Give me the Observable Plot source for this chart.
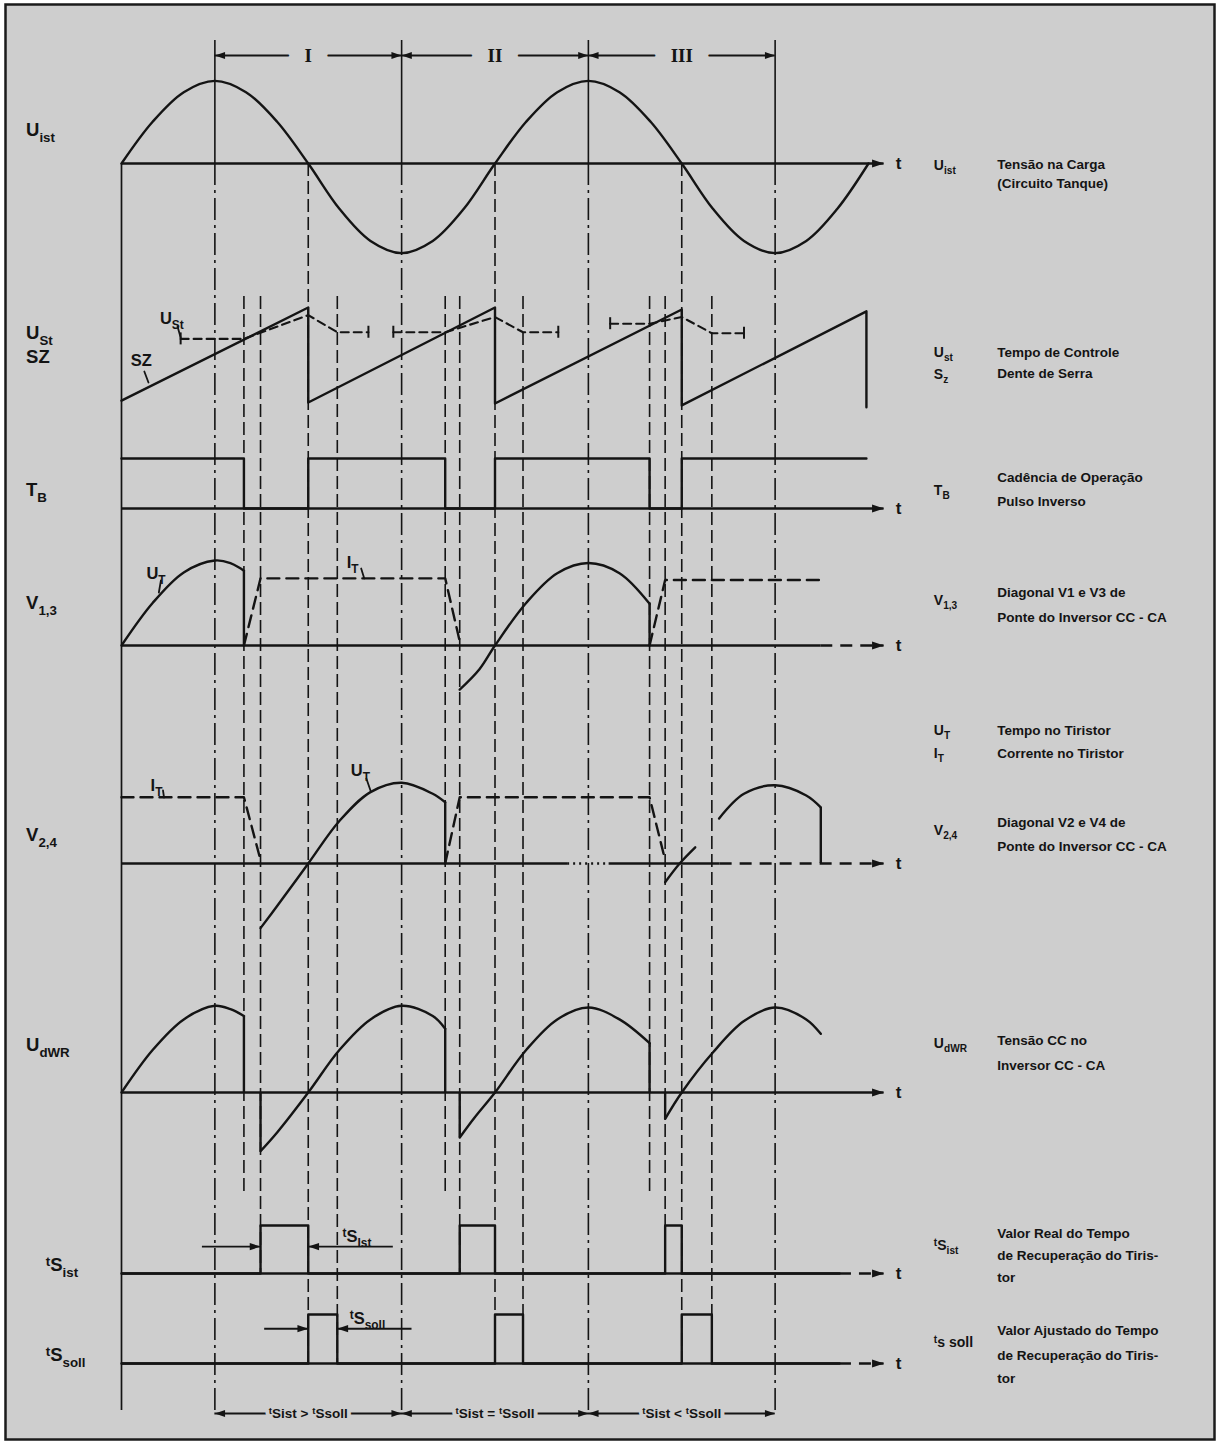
<!DOCTYPE html>
<html>
<head>
<meta charset="utf-8">
<script src="https://cdn.jsdelivr.net/npm/d3@7"></script>
<script src="https://cdn.jsdelivr.net/npm/@observablehq/plot@0.6"></script>
<style>
html,body{margin:0;padding:0;background:#ffffff;}
#chart svg{display:block;}
</style>
</head>
<body>
<div id="chart"></div>
<script>
// ---------------- DATA (x = electrical angle of U_ist, degrees) ----------------
const periodNames = ["I", "II", "III"];
const periodBounds = [90, 270, 450, 630];
const bottomCompare = ["{^t}Sist > {^t}Ssoll", "{^t}Sist = {^t}Ssoll", "{^t}Sist < {^t}Ssoll"];

// U_ist : tank-circuit voltage
const uistAngle = [0,30,60,90,120,150,180,210,240,270,300,330,360,390,420,450,480,510,540,570,600,630,660,690,720];
const uistValue = [0,0.48,0.82,0.95,0.82,0.48,0,-0.52,-0.89,-1.03,-0.89,-0.52,0,0.48,0.82,0.95,0.82,0.48,0,-0.52,-0.89,-1.03,-0.89,-0.52,0];

// SZ : saw-tooth
const szAngle = [0,180,180,360,360,540,540,718,718];
const szValue = [0.03,1.01,0.01,1.01,0.0,0.99,-0.02,0.97,-0.04];

// U_St : control level (dashed), one group per period
const ustPeriod = [1,1,1,1,1, 2,2,2,2,2, 3,3,3,3,3];
const ustAngle  = [57,118,180,208,238, 262,312,360,387,421, 471,509,540,569,600];
const ustValue  = [0.68,0.68,0.93,0.75,0.75, 0.75,0.75,0.91,0.75,0.75, 0.84,0.84,0.91,0.74,0.74];

// T_B : operating cadence (inverse pulse)
const tbAngle = [0,118,180,312,360,509,540,718];
const tbState = [1,0,1,0,1,0,1,1];

// V1,3 : thyristor voltage U_T (solid) and current I_T (dashed)
const v13UtSeg   = [1,1,1,1,1,1, 2,2,2,2,2,2,2,2];
const v13UtAngle = [0,30,60,90,105,118, 326,345,360,390,420,450,480,509];
const v13UtValue = [0,0.5,0.86,1.0,0.97,0.88, -0.52,-0.28,0,0.5,0.85,0.97,0.85,0.49];
const v13DropAngle = [118,509];
const v13DropFrom  = [0.88,0.49];
const v13ItSeg   = [1,1,1,1, 2,2,2];
const v13ItAngle = [118,134,312,326, 509,524,674];
const v13ItValue = [0,0.79,0.79,0.05, 0,0.77,0.77];

// V2,4
const v24UtSeg   = [1,1,1,1,1,1,1,1, 2,2,2, 3,3,3,3,3];
const v24UtAngle = [134,150,180,210,240,270,300,312, 524,538,553, 576,600,630,660,674];
const v24UtValue = [-0.76,-0.5,0,0.5,0.84,0.95,0.82,0.72, -0.22,0,0.19, 0.53,0.82,0.92,0.8,0.66];
const v24DropAngle = [312,674];
const v24DropFrom  = [0.72,0.66];
const v24ItSeg   = [1,1,1, 2,2,2,2];
const v24ItAngle = [0,118,134, 312,326,509,524];
const v24ItValue = [0.78,0.78,0.04, 0,0.78,0.78,0.04];

// U_dWR : DC voltage of the inverter
const udwrSeg   = [1,1,1,1,1,1, 2,2,2,2,2,2,2,2, 3,3,3,3,3,3,3,3, 4,4,4,4,4,4,4];
const udwrAngle = [0,30,60,90,105,118, 134,150,180,210,240,270,300,312, 326,340,360,390,420,450,480,509, 524,540,570,600,630,660,674];
const udwrValue = [0,0.5,0.86,1.02,0.98,0.9, -0.69,-0.47,0,0.5,0.86,1.02,0.9,0.75, -0.53,-0.3,0,0.5,0.86,1.0,0.86,0.58, -0.31,0,0.47,0.84,1.0,0.86,0.69];
const udwrDropAngle = [118,134,312,326,509,524];
const udwrDropFrom  = [0.9,0,0.75,0,0.58,0];
const udwrDropTo    = [0,-0.69,0,-0.53,0,-0.31];

// recovery times
const tsistAngle  = [0,134,180,326,360,524,540,692];
const tsistState  = [0,1,0,1,0,1,0,0];
const tssollAngle = [0,180,208,360,387,540,569,692];
const tssollState = [0,1,0,1,0,1,0,0];

// vertical reference lines
const guideAngle = [0, 90,270,450,630, 180,360,540, 118,134,208,312,326,387,509,524,569];
const guideKind  = ["solid","dashdot","dashdot","dashdot","dashdot","zero","zero","zero",
                    "dashed","dashed","dashed","dashed","dashed","dashed","dashed","dashed","dashed"];
const guideEnd   = ["foot","bracket","bracket","bracket","bracket","tssoll","tssoll","tssoll",
                    "udwr","tsist","tssoll","udwr","tsist","tssoll","udwr","tsist","tssoll"];

// time axes
const axisRow   = ["uist","tb","v13","v13","v24","v24","v24","v24","udwr","tsist","tsist","tssoll","tssoll"];
const axisFrom  = [0,0,0,674,0,430,470,577,0,0,692,0,692];
const axisTo    = [735,735,674,735,430,470,577,735,735,692,735,692,735];
const axisStyle = ["solid","solid","solid","dashed","solid","dotted","solid","dashed","solid","solid","dashed","solid","dashed"];

// recovery-time annotation arrows
const tsistArrowFrom = [78,262],  tsistArrowTo = [134,180];
const tssollArrowFrom = [138,280], tssollArrowTo = [180,208];

// labels
const leftLabels = ["U{_ist}","U{_St}","SZ","T{_B}","V{_1,3}","V{_2,4}","U{_dWR}","{^t}S{_ist}","{^t}S{_soll}"];
const inlineLabels = ["U{_St}","SZ","U{_T}","I{_T}","I{_T}","U{_T}","{^t}S{_Ist}","{^t}S{_soll}"];
const legendSymbols = ["U{_ist}","U{_st}","S{_z}","T{_B}","V{_1,3}","U{_T}","I{_T}","V{_2,4}","U{_dWR}","{^t}S{_ist}","{^t}s soll"];
const legendLines = ["Tensão na Carga","(Circuito Tanque)","Tempo de Controle","Dente de Serra",
  "Cadência de Operação","Pulso Inverso","Diagonal V1 e V3 de","Ponte do Inversor CC - CA",
  "Tempo no Tiristor","Corrente no Tiristor","Diagonal V2 e V4 de","Ponte do Inversor CC - CA",
  "Tensão CC no","Inversor CC - CA","Valor Real do Tempo","de Recuperação do Tiris-","tor",
  "Valor Ajustado do Tempo","de Recuperação do Tiris-","tor"];

// ---------------- LAYOUT & STYLE ----------------
const W = 1219, H = 1443;
const INK = "#141414", BG = "#cecece";
const FONT = "'Liberation Sans', Arial, 'DejaVu Sans', sans-serif";
const rowBase = {uist:163, sz:403, tb:508, v13:645, v24:863, udwr:1092, tsist:1273, tssoll:1363};
const rowGain = {uist:87, sz:95, tb:50, v13:85, v24:85, udwr:85, tsist:48, tssoll:49};
const Y = (row, v) => rowBase[row] - rowGain[row] * v;
const TOP_BRACKET = 55, BOTTOM_BRACKET = 1413;
const endY = {foot:1410, bracket:BOTTOM_BRACKET, tssoll:Y("tssoll",0), tsist:Y("tsist",0), udwr:1195};
const startY = {solid:Y("uist",0), dashdot:Y("uist",0), zero:Y("uist",0), dashed:296};

const pts = (row, angles, values, seg) => angles.map((a, i) => ({a, y: Y(row, values[i]), z: seg ? seg[i] : 0}));

const arrowRight = {draw(ctx, size){ const s = Math.sqrt(size / Math.PI); ctx.moveTo(0,0); ctx.lineTo(-3*s,-s); ctx.lineTo(-3*s,s); ctx.closePath(); }};

const SW = 2.4;
const lineOpts = {x:"a", y:"y", z:"z", stroke:INK, strokeWidth:SW, strokeLinejoin:"round", strokeLinecap:"round"};
const dash = {dashed:"13,5", dashdot:"22,5,3,5", it:"12,7", ust:"8,5", axis:"12,8", dotted:"2,4"};

const marks = [];
marks.push(Plot.frame({fill:BG, stroke:"#1b1b1b", strokeWidth:2.5}));

// guides
const guides = guideAngle.map((a,i)=>({a, kind:guideKind[i], y1:startY[guideKind[i]], y2:endY[guideEnd[i]]}));
marks.push(Plot.ruleX(guides.filter(d=>d.kind==="solid"), {x:"a", y1:"y1", y2:"y2", stroke:INK, strokeWidth:1.7}));
marks.push(Plot.ruleX(periodBounds, {x:d=>d, y1:40, y2:Y("uist",0), stroke:INK, strokeWidth:1.6}));
marks.push(Plot.ruleX(guides.filter(d=>d.kind==="dashdot"), {x:"a", y1:"y1", y2:"y2", stroke:INK, strokeWidth:1.6, strokeDasharray:dash.dashdot}));
marks.push(Plot.ruleX(guides.filter(d=>d.kind==="zero"||d.kind==="dashed"), {x:"a", y1:"y1", y2:"y2", stroke:INK, strokeWidth:1.6, strokeDasharray:dash.dashed}));

// axes
const axes = axisRow.map((r,i)=>({x1:axisFrom[i], x2:axisTo[i], y:Y(r,0), s:axisStyle[i]}));
for (const s of ["solid","dashed","dotted"]) {
  marks.push(Plot.ruleY(axes.filter(d=>d.s===s), {x1:"x1", x2:"x2", y:"y", stroke:INK, strokeWidth:SW,
    strokeDasharray: s==="solid" ? null : (s==="dashed" ? dash.axis : dash.dotted)}));
}
const axisRows = [...new Set(axisRow)];
marks.push(Plot.dot(axisRows, {x:735, y:r=>Y(r,0), r:4, symbol:arrowRight, fill:INK, stroke:null}));
marks.push(Plot.text(axisRows, {x:749, y:r=>Y(r,0), text:()=>"t", fontSize:17, fontWeight:"bold", fontFamily:FONT, fill:INK, textAnchor:"middle"}));

// U_ist
marks.push(Plot.line(pts("uist", uistAngle, uistValue), {...lineOpts, curve:"catmull-rom"}));
// saw-tooth
marks.push(Plot.line(pts("sz", szAngle, szValue), {...lineOpts}));
// control level
const ust = pts("sz", ustAngle, ustValue, ustPeriod);
marks.push(Plot.line(ust, {...lineOpts, strokeWidth:2.1, strokeDasharray:dash.ust}));
const ustEnds = ust.filter((d,i)=> i===0 || i===ust.length-1 || ust[i-1].z!==d.z || ust[i+1].z!==d.z);
marks.push(Plot.ruleX(ustEnds, {x:"a", y1:d=>d.y-6, y2:d=>d.y+6, stroke:INK, strokeWidth:2}));
// T_B
marks.push(Plot.line(pts("tb", tbAngle, tbState), {...lineOpts, curve:"step-after"}));

// V1,3
marks.push(Plot.line(pts("v13", v13UtAngle, v13UtValue, v13UtSeg), {...lineOpts, curve:"catmull-rom"}));
marks.push(Plot.ruleX(v13DropAngle.map((a,i)=>({a, y1:Y("v13",v13DropFrom[i]), y2:Y("v13",0)})), {x:"a", y1:"y1", y2:"y2", stroke:INK, strokeWidth:SW}));
marks.push(Plot.line(pts("v13", v13ItAngle, v13ItValue, v13ItSeg), {...lineOpts, strokeDasharray:dash.it}));
// V2,4
marks.push(Plot.line(pts("v24", v24UtAngle, v24UtValue, v24UtSeg), {...lineOpts, curve:"catmull-rom"}));
marks.push(Plot.ruleX(v24DropAngle.map((a,i)=>({a, y1:Y("v24",v24DropFrom[i]), y2:Y("v24",0)})), {x:"a", y1:"y1", y2:"y2", stroke:INK, strokeWidth:SW}));
marks.push(Plot.line(pts("v24", v24ItAngle, v24ItValue, v24ItSeg), {...lineOpts, strokeDasharray:dash.it}));
// U_dWR
marks.push(Plot.line(pts("udwr", udwrAngle, udwrValue, udwrSeg), {...lineOpts, curve:"catmull-rom"}));
marks.push(Plot.ruleX(udwrDropAngle.map((a,i)=>({a, y1:Y("udwr",udwrDropFrom[i]), y2:Y("udwr",udwrDropTo[i])})), {x:"a", y1:"y1", y2:"y2", stroke:INK, strokeWidth:SW}));
// recovery time pulses
marks.push(Plot.line(pts("tsist", tsistAngle, tsistState), {...lineOpts, curve:"step-after"}));
marks.push(Plot.line(pts("tssoll", tssollAngle, tssollState), {...lineOpts, curve:"step-after"}));

// annotation arrows (t_Sist, t_Ssoll)
const annot = [
  ...tsistArrowFrom.map((f,i)=>({x1:f, x2:tsistArrowTo[i], y:Y("tsist",0.56)})),
  ...tssollArrowFrom.map((f,i)=>({x1:f, x2:tssollArrowTo[i], y:Y("tssoll",0.71)}))
];
marks.push(Plot.ruleY(annot, {x1:"x1", x2:"x2", y:"y", stroke:INK, strokeWidth:1.9}));
marks.push(Plot.dot(annot, {x:"x2", y:"y", r:3.6, symbol:arrowRight, rotate:d=>d.x2>d.x1?0:180, fill:INK, stroke:null}));

// period brackets (top and bottom)
for (const yb of [TOP_BRACKET, BOTTOM_BRACKET]) {
  marks.push(Plot.ruleY([yb], {x1:periodBounds[0], x2:periodBounds[periodBounds.length-1], stroke:INK, strokeWidth:1.9}));
  const heads = [];
  for (let i=0;i<periodNames.length;i++){ heads.push({a:periodBounds[i], rot:180}); heads.push({a:periodBounds[i+1], rot:0}); }
  marks.push(Plot.dot(heads, {x:"a", y:yb, r:3.4, symbol:arrowRight, rotate:"rot", fill:INK, stroke:null}));
}
const mids = periodNames.map((n,i)=>({a:(periodBounds[i]+periodBounds[i+1])/2, n, c:bottomCompare[i]}));
const serif = "'Liberation Serif','DejaVu Serif',serif";
// halos (background-coloured) that open a gap in the bracket lines, then the labels
marks.push(Plot.text(mids, {x:"a", y:TOP_BRACKET, text:"n", fontSize:19, fontWeight:"bold", fontFamily:serif, fill:BG, stroke:BG, strokeWidth:34}));
marks.push(Plot.text(mids, {x:"a", y:TOP_BRACKET, text:"n", fontSize:19, fontWeight:"bold", fontFamily:serif, fill:INK}));
marks.push(Plot.text(mids, {x:"a", y:BOTTOM_BRACKET, text:"c", fontSize:13.5, fontWeight:"bold", fontFamily:FONT, fill:BG, stroke:BG, strokeWidth:8}));
marks.push(Plot.text(mids, {x:"a", y:BOTTOM_BRACKET, text:"c", fontSize:13.5, fontWeight:"bold", fontFamily:FONT, fill:INK}));

// left labels
const leftPos = [[-92,130],[-92,333],[-92,357],[-92,490],[-92,603],[-92,835],[-92,1045],[-73,1265],[-73,1355]];
marks.push(Plot.text(leftLabels.map((t,i)=>({t, a:leftPos[i][0], y:leftPos[i][1]})), {x:"a", y:"y", text:"t", textAnchor:"start", fontSize:18.5, fontWeight:"bold", fontFamily:FONT, fill:INK}));

// inline labels + leader strokes
const inlinePos = [[37,318],[9,360],[24,573],[217,562],[28,785],[221,770],[213,1236],[220,1318]];
marks.push(Plot.text(inlineLabels.map((t,i)=>({t, a:inlinePos[i][0], y:inlinePos[i][1]})), {x:"a", y:"y", text:"t", textAnchor:"start", fontSize:16.5, fontWeight:"bold", fontFamily:FONT, fill:INK}));
const leaders = [[[54,326],[57,337]],[[22,371],[26,382]],[[38,580],[36,592]],[[231,568],[234,578]],[[40,790],[41,797]],[[236,778],[240,790]]];
marks.push(Plot.line(leaders.flatMap((l,k)=>l.map(p=>({a:p[0], y:p[1], z:k}))), {x:"a", y:"y", z:"z", stroke:INK, strokeWidth:1.8}));

// right-hand legend
const symY = [165,352,374,490,600,730,753,830,1043,1245,1342];
const lineY = [164,183,352,373,477,501,592,617,730,753,822,846,1040,1065,1233,1255,1277,1330,1355,1378];
marks.push(Plot.text(legendSymbols.map((t,i)=>({t, y:symY[i]})), {x:783, y:"y", text:"t", textAnchor:"start", fontSize:14, fontWeight:"bold", fontFamily:FONT, fill:INK}));
marks.push(Plot.text(legendLines.map((t,i)=>({t, y:lineY[i]})), {x:844, y:"y", text:"t", textAnchor:"start", fontSize:13.5, fontWeight:"bold", fontFamily:FONT, fill:INK, ariaLabel:"legend-text"}));

const chart = Plot.plot({
  width: W, height: H,
  marginLeft: 5, marginRight: 5, marginTop: 4, marginBottom: 4,
  x: {domain: [(5-121)/1.0375, (1214-121)/1.0375], axis: null},
  y: {domain: [4, 1439], range: [4, 1439], axis: null},
  style: {background: "#ffffff", overflow: "visible"},
  marks
});
document.getElementById("chart").appendChild(chart);

// word spacing for the legend, as in the lettering of the original
chart.querySelectorAll('g[aria-label="legend-text"] text').forEach(t => t.setAttribute("word-spacing", "3.5"));

// rich text: {_xx} subscript, {^xx} small raised prefix
const NS = "http://www.w3.org/2000/svg";
chart.querySelectorAll("text").forEach(t => {
  const s = t.textContent;
  if (!s.includes("{")) return;
  const fs = parseFloat(getComputedStyle(t).fontSize) || 14;
  t.textContent = "";
  let shift = 0;
  const re = /\{([_^])([^}]*)\}|([^{]+)/g; let m;
  while ((m = re.exec(s))) {
    const sp = document.createElementNS(NS, "tspan");
    let target;
    if (m[3] !== undefined) { sp.textContent = m[3]; target = 0; }
    else {
      sp.textContent = m[2];
      sp.setAttribute("font-size", (fs * 0.72).toFixed(1));
      target = m[1] === "_" ? fs * 0.32 : -fs * 0.3;
    }
    const dy = target - shift;
    if (Math.abs(dy) > 0.01) sp.setAttribute("dy", dy.toFixed(1));
    shift = target;
    t.appendChild(sp);
  }
});
</script>
</body>
</html>
